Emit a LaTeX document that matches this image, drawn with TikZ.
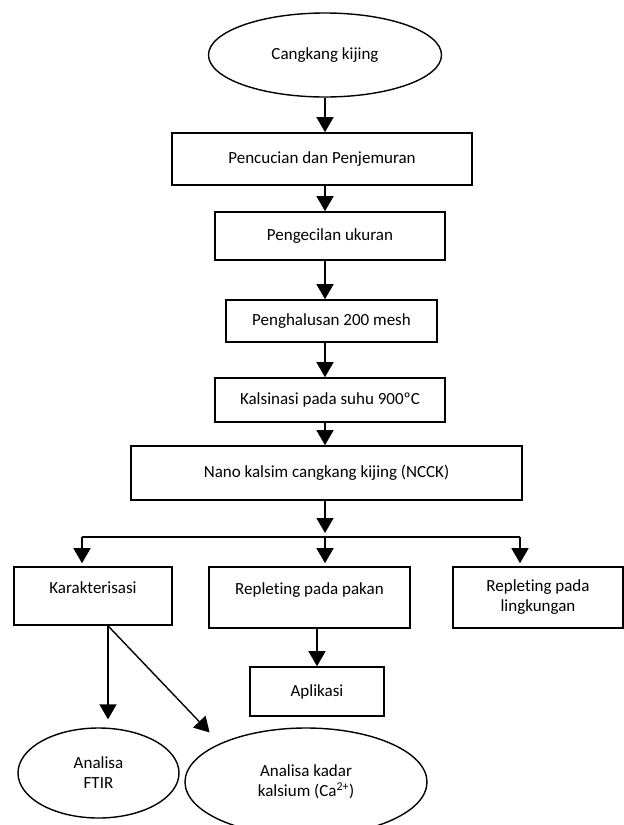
\documentclass[tikz,border=0pt]{standalone}
\usepackage{fontspec}
\setmainfont{Carlito}[Ligatures=NoCommon]
\usetikzlibrary{arrows.meta,shapes.geometric,calc}

\tikzset{
  stepbox/.style={draw, rectangle, line width=1.6pt, inner sep=0pt, align=center,
    font=\fontsize{17}{20}\selectfont},
  oval/.style={draw, ellipse, line width=1.4pt, inner sep=0pt, align=center,
    font=\fontsize{17}{20}\selectfont},
  raised/.style={text height=12pt, text depth=18pt},
  arr/.style={line width=1.4pt, -{Triangle[length=15pt,width=17pt]}}
}

\begin{document}
\begin{tikzpicture}[x=1pt,y=-1pt]
	\clip (0,0) rectangle (624,825);
	
	%%%%% TOP CHAIN %%%%%
	\node[oval, minimum width=233pt, minimum height=84pt] (cangkang) at (325,55) {Cangkang kijing};
	\node[stepbox, minimum width=300pt, minimum height=52pt] (cuci) at (322,159) {Pencucian dan Penjemuran};
	\node[stepbox, minimum width=230pt, minimum height=48pt] (kecil) at (330,236) {Pengecilan ukuran};
	\node[stepbox, minimum width=211pt, minimum height=42pt] (halus) at (331.5,321) {Penghalusan 200 mesh};
	\node[stepbox, minimum width=230pt, minimum height=44pt] (kalsinasi) at (330,400) {Kalsinasi pada suhu 900ºC};
	\node[stepbox, minimum width=391pt, minimum height=54pt] (ncck) at (326.5,473) {Nano kalsim cangkang kijing (NCCK)};
	
	%%%%% BRANCHES %%%%%
	\node[stepbox, raised, minimum width=158pt, minimum height=58pt] (karakter) at (93,596) {Karakterisasi};
	\node[stepbox, raised, minimum width=201pt, minimum height=61pt] (pakan) at (309.5,597.5) {Repleting pada pakan};
	\node[stepbox, minimum width=170pt, minimum height=61pt] (lingkungan) at (538,597.5) {Repleting pada\\lingkungan};
	\node[stepbox, minimum width=134pt, minimum height=49pt] (aplikasi) at (317,691.5) {Aplikasi};
	
	\node[oval, minimum width=161pt, minimum height=90pt] (ftir) at (98.5,773) {Analisa\\FTIR};
	\node[oval, minimum width=242pt, minimum height=108pt] (kadar) at (306,782) {Analisa kadar\\kalsium (Ca\textsuperscript{2+})};
	
	\coordinate (split) at (325,537);
	\coordinate (splitL) at (82,537);
	\coordinate (splitR) at (520,537);
	\coordinate (kfoot) at ($(karakter.south)+(15,0)$);
	
	%%%%% ARROWS %%%%%
	\draw[arr] (cangkang.south) -- (cangkang.south |- cuci.north);
	\draw[arr] (cangkang.south |- cuci.south) -- (cangkang.south |- kecil.north);
	\draw[arr] (cangkang.south |- kecil.south) -- (cangkang.south |- halus.north);
	\draw[arr] (cangkang.south |- halus.south) -- (cangkang.south |- kalsinasi.north);
	\draw[arr] (cangkang.south |- kalsinasi.south) -- (cangkang.south |- ncck.north);
	\draw[arr] (cangkang.south |- ncck.south) -- ($(split)+(0,-4)$);
	
	\draw[line width=1.4pt] (splitL) -- (splitR);
	\draw[arr, shorten >=3pt] (splitL) -- (splitL |- karakter.north);
	\draw[arr, shorten >=3pt] (split) -- (split |- pakan.north);
	\draw[arr, shorten >=3pt] (splitR) -- (splitR |- lingkungan.north);
	
	\draw[arr, shorten >=8pt] (kfoot) -- (kfoot |- ftir.north);
	\draw[arr, shorten >=15pt] (kfoot) -- (kadar.north west);
	\draw[arr] (aplikasi.north |- pakan.south) -- (aplikasi.north);
	
\end{tikzpicture}
\end{document}
